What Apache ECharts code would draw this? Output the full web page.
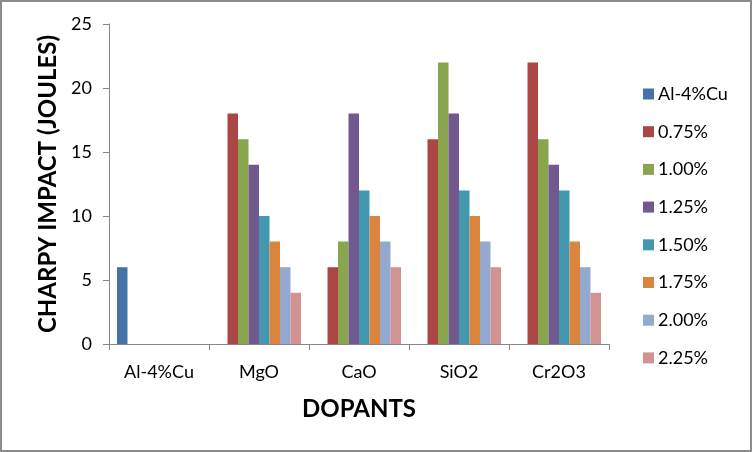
<!DOCTYPE html>
<html>
<head>
<meta charset="utf-8">
<script src="https://cdn.jsdelivr.net/npm/echarts@6/dist/echarts.min.js"></script>
<style>
html,body{margin:0;padding:0;background:#fff;}
#frame{position:absolute;left:0;top:0;width:748px;height:448px;border:2px solid #8c8c8c;background:#fff;}
#chart{width:748px;height:448px;}
</style>
</head>
<body>
<div id="frame"><div id="chart"></div></div>
<script>
const categories = ['Al-4%Cu', 'MgO', 'CaO', 'SiO2', 'Cr2O3'];
const seriesNames = ['Al-4%Cu', '0.75%', '1.00%', '1.25%', '1.50%', '1.75%', '2.00%', '2.25%'];
const sAl = [6, null, null, null, null];
const s075 = [null, 18, 6, 16, 22];
const s100 = [null, 16, 8, 22, 16];
const s125 = [null, 14, 18, 18, 14];
const s150 = [null, 10, 12, 12, 12];
const s175 = [null, 8, 10, 10, 8];
const s200 = [null, 6, 8, 8, 6];
const s225 = [null, 4, 6, 6, 4];
const yTicks = [0, 5, 10, 15, 20, 25];
const colors = ['#4572A7', '#AA4643', '#89A54E', '#71588F', '#4198AF', '#DB843D', '#93A9CF', '#D19392'];
const allData = [sAl, s075, s100, s125, s150, s175, s200, s225];

const font = 'Lato, "Open Sans", sans-serif';
const chart = echarts.init(document.getElementById('chart'));
chart.setOption({
  animation: false,
  color: colors,
  grid: { left: 107, top: 22, width: 500, height: 320, containLabel: false },
  legend: {
    orient: 'vertical', left: 641, top: 83, padding: 0,
    itemWidth: 11, itemHeight: 11, itemGap: 19.7,
    icon: 'rect',
    textStyle: { fontFamily: font, fontSize: 18, color: '#000', lineHeight: 18, padding: [0,0,0,-1] },
    data: seriesNames
  },
  xAxis: {
    type: 'category', data: categories,
    name: 'DOPANTS', nameLocation: 'middle', nameGap: 53,
    nameTextStyle: { fontFamily: font, fontSize: 24, fontWeight: 'bold', color: '#000' },
    axisLine: { lineStyle: { color: '#868686', width: 1 } },
    axisTick: { show: true, length: 6, alignWithLabel: false, lineStyle: { color: '#868686' } },
    axisLabel: { fontFamily: font, fontSize: 18, color: '#000', margin: 19 }
  },
  yAxis: {
    type: 'value', min: yTicks[0], max: yTicks[yTicks.length - 1], interval: 5,
    name: 'CHARPY IMPACT (JOULES)', nameLocation: 'middle', nameGap: 48,
    nameTextStyle: { fontFamily: font, fontSize: 24, fontWeight: 'bold', color: '#000' },
    axisLine: { show: true, lineStyle: { color: '#868686', width: 1 } },
    axisTick: { show: true, length: 6, lineStyle: { color: '#868686' } },
    splitLine: { show: false },
    axisLabel: { fontFamily: font, fontSize: 18, color: '#000', margin: 17 }
  },
  series: seriesNames.map((n, i) => ({
    name: n, type: 'bar', data: allData[i],
    barGap: '0%', barCategoryGap: '16%'
  }))
});
</script>
</body>
</html>
